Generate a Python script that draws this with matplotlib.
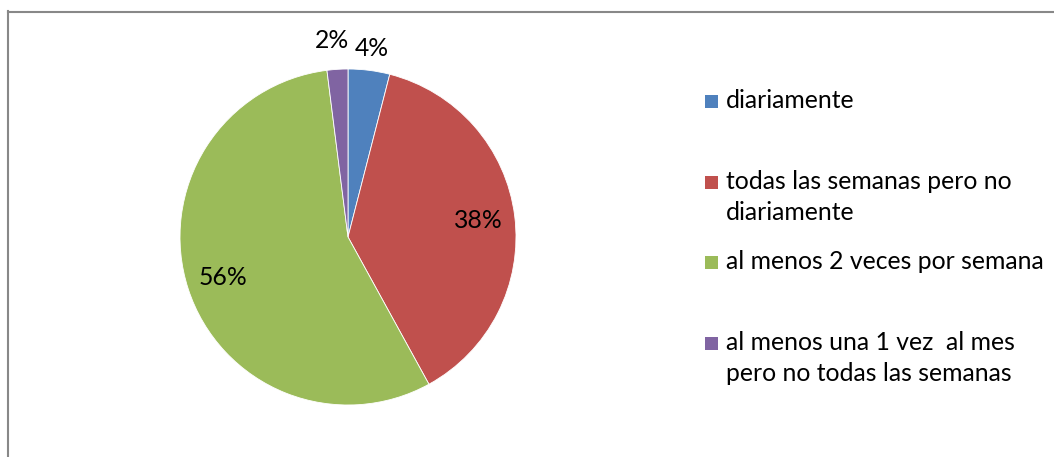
import numpy as np
import matplotlib
matplotlib.use("Agg")
import matplotlib.pyplot as plt
from matplotlib.lines import Line2D
from matplotlib.patches import Rectangle

# data
categories = ["diariamente",
              "todas las semanas pero no\ndiariamente",
              "al menos 2 veces por semana",
              "al menos una 1 vez  al mes\npero no todas las semanas"]
values = [4, 38, 56, 2]
colors = ["#4F81BD", "#C0504D", "#9BBB59", "#8064A2"]

plt.rcParams['font.family'] = ['Lato', 'DejaVu Sans']
FS = 17.8

W, H = 1054, 457
fig = plt.figure(figsize=(W / 100, H / 100), dpi=100)

# pie centre and radius in pixels
cx, cy, R = 348, 237, 168
ax = fig.add_axes([(cx - R) / W, (H - cy - R) / H, 2 * R / W, 2 * R / H])
wedges, texts, autotexts = ax.pie(values, colors=colors, startangle=90, counterclock=False,
                                  autopct='%1.0f%%', pctdistance=0.78,
                                  wedgeprops=dict(edgecolor='white', linewidth=0.6),
                                  textprops=dict(fontsize=FS, color='black'))
ax.set_xlim(-1, 1)
ax.set_ylim(-1, 1)
ax.set_aspect('auto')
ax.axis('off')

# small slices get their label outside the pie (excel nudges them apart)
outside = {4: (1.13, 0.0), 2: (1.17, -0.02)}
for w, t, v in zip(wedges, autotexts, values):
    if v in outside:
        dist, dx = outside[v]
        ang = np.deg2rad((w.theta1 + w.theta2) / 2)
        t.set_position((dist * np.cos(ang) + dx, dist * np.sin(ang)))

# legend drawn by hand, Excel style
leg_y = [101, 182, 262, 343]
for y, c, lab in zip(leg_y, colors, categories):
    fig.add_artist(Rectangle((705 / W, 1 - (y + 7) / H), 13 / W, 13 / H,
                             transform=fig.transFigure, facecolor=c, edgecolor='none'))
    for i, line in enumerate(lab.split("\n")):
        fig.text(726 / W, 1 - (y + 7 + 31 * i) / H, line, fontsize=FS,
                 va='baseline', ha='left')

# chart border (right and bottom edges are cut off)
border = '#888888'
fig.add_artist(Line2D([7.5 / W, 7.5 / W], [0, 1 - 11 / H], color=border, lw=1.5,
                      transform=fig.transFigure))
fig.add_artist(Line2D([7.5 / W, 1], [1 - 11.5 / H, 1 - 11.5 / H], color=border, lw=1.5,
                      transform=fig.transFigure))

fig.savefig("out.png", dpi=100)
